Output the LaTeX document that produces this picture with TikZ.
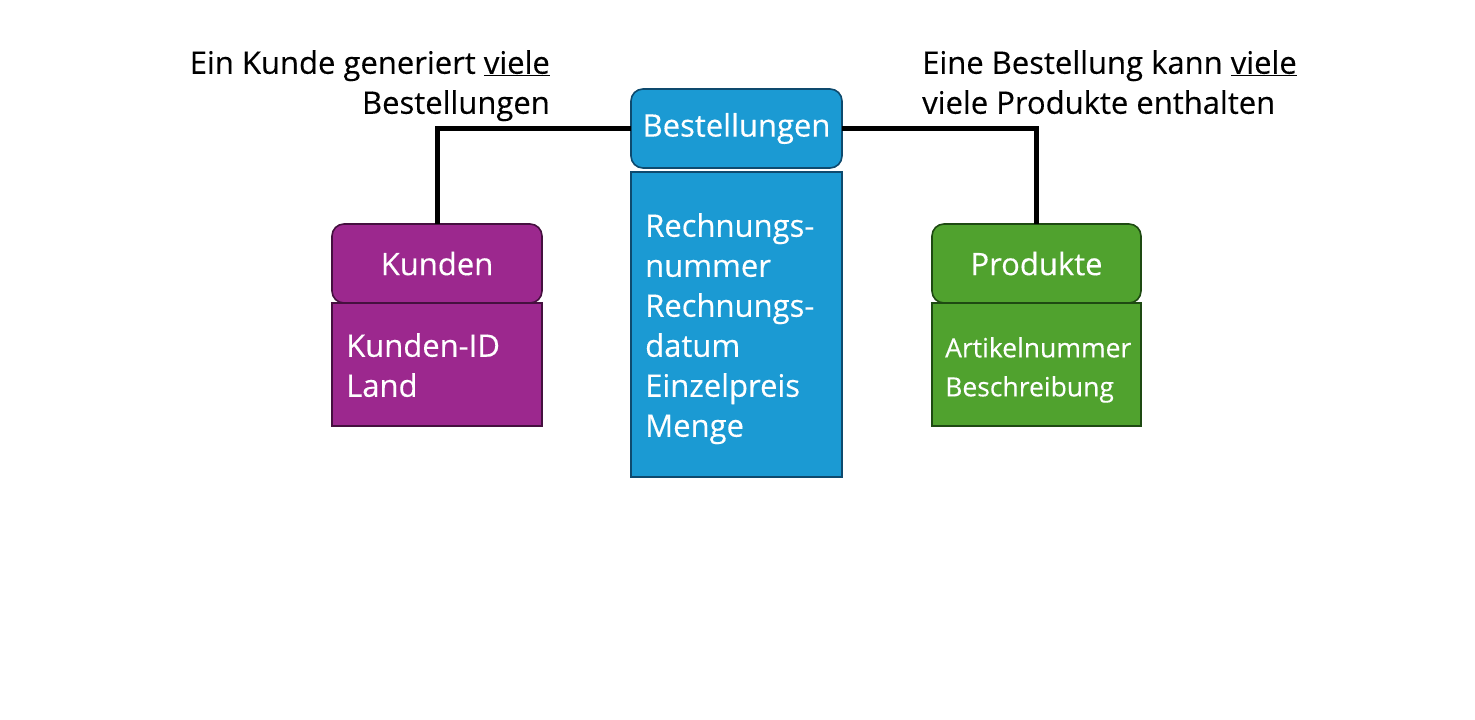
\documentclass[tikz,border=0pt]{standalone}
\usepackage{fontspec}
\setmainfont[FakeBold=0.3]{Open Sans}
\begin{document}
\begin{tikzpicture}[x=1pt,y=-1pt,
  hdr/.style={draw=#1,line width=1.6pt,rounded corners=12pt},
  bdy/.style={draw=#1,line width=1.6pt},
  lbl/.style={text=white,font=\fontsize{31}{40}\selectfont,inner sep=0pt},
  note/.style={text=black,font=\fontsize{31}{40}\selectfont,inner sep=0pt,align=#1},
  conn/.style={line width=5pt,black}]
\definecolor{kpurple}{HTML}{9C288E}
\definecolor{kpurpled}{HTML}{45103F}
\definecolor{bblue}{HTML}{1B9AD3}
\definecolor{bblued}{HTML}{0E4A6E}
\definecolor{pgreen}{HTML}{50A22E}
\definecolor{pgreend}{HTML}{1E4A12}
\useasboundingbox (0,0) rectangle (1475,720);
\fill[white] (0,0) rectangle (1475,720);
% Bestellungen
\filldraw[bdy=bblued,fill=bblue] (631,172) rectangle (842,477);
\filldraw[hdr=bblued,fill=bblue] (631,89) rectangle (842,168);
\node[lbl] (bh) at (736.5,128.5) {Bestellungen};
\node[lbl,anchor=north west,align=left] (bb) at (645,213) {Rechnungs-\\nummer\\Rechnungs-\\datum\\Einzelpreis\\Menge};
% Kunden
\filldraw[bdy=kpurpled,fill=kpurple] (332,303) rectangle (542,426);
\filldraw[hdr=kpurpled,fill=kpurple] (332,224) rectangle (542,303);
\node[lbl] (kh) at (437,263.5) {Kunden};
\node[lbl,anchor=north west,align=left] (kb) at (346,333) {Kunden-ID\\Land};
% Produkte
\filldraw[bdy=pgreend,fill=pgreen] (932,303) rectangle (1141,426);
\filldraw[hdr=pgreend,fill=pgreen] (932,224) rectangle (1141,303);
\node[lbl] (ph) at (1036.5,263.5) {Produkte};
\node[lbl,anchor=north west,align=left,font=\fontsize{26.5}{39}\selectfont] (pb) at (945,337) {Artikelnummer\\Beschreibung};
% connectors
\coordinate (kt) at (437,224);
\coordinate (pt) at (1036,224);
\coordinate (bl) at (631,128);
\coordinate (br) at (842,128);
\draw[conn] (kt) |- (bl);
\draw[conn] (br) -| (pt);
% notes
\node[note=right,anchor=north east] (n1) at (550,50) {Ein Kunde generiert \underline{viele}\\Bestellungen};
\node[note=left,anchor=north west] (n2) at (922,50) {Eine Bestellung kann \underline{viele}\\viele Produkte enthalten};
\end{tikzpicture}
\end{document}
